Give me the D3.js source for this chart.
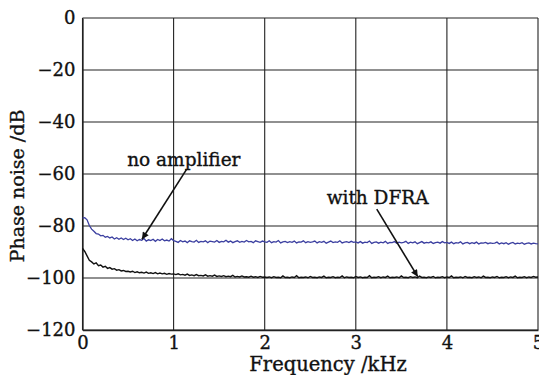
<!DOCTYPE html>
<html>
<head>
<meta charset="utf-8">
<script src="https://cdn.jsdelivr.net/npm/d3@7"></script>
<style>
  body { margin: 0; background: #fff; }
  text { font-family: "DejaVu Serif", serif; fill: #111; stroke: #111; stroke-width: 0.35px; }
</style>
</head>
<body>
<svg id="chart" width="539" height="375"></svg>
<script>
// sample grid (kHz)
const freqStep = 0.025;

// no amplifier
const noAmp = [
  -77.0, -76.8, -77.6, -79.8, -81.2, -82.0, -82.9, -83.1, -83.8, -83.6,
  -84.3, -84.0, -84.6, -84.2, -85.0, -84.5, -85.1, -84.6, -85.2, -84.7, -85.3,
  -84.9, -85.6, -85.0, -85.7, -85.2, -85.5, -84.8, -85.8, -85.3, -85.6,
  -85.1, -85.9, -85.2, -85.6, -85.0, -85.7, -85.4, -85.8, -84.9, -85.6,
  -85.9, -86.3, -85.6, -86.1, -85.8, -86.4, -85.7, -86.0, -86.2, -85.5,
  -86.3, -85.9, -86.1, -85.7, -86.4, -85.8, -86.0, -86.2, -85.6, -86.3,
  -85.9, -86.1, -85.5, -86.2, -85.8, -86.4, -86.0, -85.7, -86.3, -85.9,
  -86.2, -85.6, -86.1, -85.9, -86.4, -85.7, -86.0, -86.3, -85.8, -86.1,
  -86.3, -85.7, -86.4, -86.0, -86.2, -85.6, -86.5, -86.1, -85.9, -86.4,
  -86.0, -86.3, -85.8, -86.5, -86.1, -86.2, -85.7, -86.4, -86.0, -86.3,
  -86.1, -85.8, -86.5, -86.0, -86.3, -85.9, -86.6, -86.2, -85.8, -86.4,
  -86.1, -86.3, -85.7, -86.5, -86.2, -86.0, -86.4, -85.9, -86.3, -86.1,
  -86.5, -86.0, -86.6, -86.2, -86.4, -85.8, -86.7, -86.3, -86.1, -86.6,
  -86.2, -86.5, -85.9, -86.7, -86.3, -86.4, -86.0, -86.6, -86.2, -86.5,
  -86.3, -85.9, -86.7, -86.2, -86.5, -86.1, -86.8, -86.4, -86.0, -86.6,
  -86.3, -86.5, -86.1, -86.7, -86.4, -86.2, -86.6, -86.0, -86.5, -86.3,
  -86.7, -86.2, -86.8, -86.4, -86.6, -86.1, -86.9, -86.5, -86.3, -86.8,
  -86.4, -86.7, -86.2, -86.9, -86.5, -86.6, -86.3, -86.8, -86.5, -86.7,
  -86.6, -86.2, -86.9, -86.5, -86.8, -86.4, -87.0, -86.6, -86.3, -86.9,
  -86.6, -86.8, -86.4, -87.0, -86.7, -86.5, -86.9, -86.6, -86.8, -86.9
];

// with DFRA
const withDfra = [
  -88.6, -89.8, -91.5, -93.2, -93.8, -94.6, -94.2, -95.3, -95.0, -95.8,
  -95.5, -96.3, -96.0, -96.6, -96.4, -97.0, -96.8, -97.3, -97.1, -97.5, -97.4,
  -97.7, -97.4, -97.9, -97.6, -98.0, -97.8, -98.1, -97.7, -98.2, -98.0,
  -98.3, -97.9, -98.4, -98.1, -98.4, -98.2, -98.6, -98.3, -98.5, -98.4,
  -98.7, -98.4, -98.8, -98.6, -98.9, -98.5, -99.0, -98.8, -99.1, -98.7,
  -99.1, -99.0, -99.2, -98.8, -99.3, -99.1, -99.3, -98.9, -99.4, -99.2,
  -99.4, -99.1, -99.5, -99.3, -99.5, -99.0, -99.6, -99.4, -99.6, -99.2,
  -99.6, -99.5, -99.7, -99.3, -99.7, -99.5, -99.8, -99.4, -99.7, -99.6,
  -99.8, -99.6, -99.9, -99.5, -99.8, -99.7, -99.9, -99.2, -99.8, -99.7,
  -99.9, -99.6, -99.8, -99.1, -99.9, -99.7, -99.8, -99.6, -99.9, -99.4,
  -99.8, -99.7, -99.9, -99.6, -99.8, -99.3, -99.9, -99.7, -99.8, -99.5,
  -99.9, -99.7, -99.8, -99.2, -99.9, -99.6, -99.8, -99.7, -99.9, -99.4,
  -99.8, -99.6, -99.9, -99.7, -99.8, -99.1, -99.9, -99.7, -99.8, -99.5,
  -99.9, -99.6, -99.8, -99.3, -99.9, -99.7, -99.8, -99.6, -99.9, -99.2,
  -99.8, -99.7, -99.9, -99.5, -99.8, -99.6, -99.9, -99.3, -99.8, -99.7,
  -99.9, -99.6, -99.8, -99.4, -99.9, -99.7, -99.8, -99.5, -99.9, -99.6,
  -99.8, -99.2, -99.9, -99.7, -99.8, -99.6, -99.9, -99.4, -99.8, -99.7,
  -99.9, -99.5, -99.8, -99.6, -99.9, -99.3, -99.8, -99.7, -99.9, -99.6,
  -99.8, -99.4, -99.9, -99.7, -99.8, -99.5, -99.9, -99.6, -99.8, -99.3,
  -99.9, -99.7, -99.8, -99.5, -99.9, -99.6, -99.8, -99.4, -99.7, -99.6
];

const xTicks = [0, 1, 2, 3, 4, 5];
const yTicks = [0, -20, -40, -60, -80, -100, -120];

// annotations: label anchor and arrow (tail -> head), in data units
const notes = [
  { label: 'no amplifier', tx: 0.49, ty: -56.9, x1: 1.144, y1: -58.1, x2: 0.653, y2: -85.1 },
  { label: 'with DFRA', tx: 2.68, ty: -71.5, x1: 3.23, y1: -73.5, x2: 3.68, y2: -99.5 }
];

const svg = d3.select('#chart');
const x = d3.scaleLinear().domain([0, 5]).range([82.5, 538]);
const y = d3.scaleLinear().domain([-120, 0]).range([330, 18]);

// grid
svg.append('g')
  .selectAll('line')
  .data(xTicks)
  .enter().append('line')
  .attr('x1', d => x(d)).attr('x2', d => x(d))
  .attr('y1', y(0)).attr('y2', y(-120))
  .attr('stroke', '#222').attr('stroke-width', 1.1);

svg.append('g')
  .selectAll('line')
  .data(yTicks)
  .enter().append('line')
  .attr('x1', x(0)).attr('x2', x(5))
  .attr('y1', d => y(d)).attr('y2', d => y(d))
  .attr('stroke', '#222').attr('stroke-width', 1.1);

// axes
const xAxis = svg.append('g')
  .attr('transform', 'translate(0,' + y(-120) + ')')
  .call(d3.axisBottom(x).tickValues(xTicks).tickSize(0).tickPadding(6).tickFormat(d3.format('d')));
const yAxis = svg.append('g')
  .attr('transform', 'translate(' + x(0) + ',0)')
  .call(d3.axisLeft(y).tickValues(yTicks).tickSize(0).tickPadding(7).tickFormat(d3.format('d')));
[xAxis, yAxis].forEach(a => {
  a.select('.domain').attr('stroke', '#222').attr('stroke-width', 1.3);
  a.selectAll('text').attr('font-family', '"DejaVu Serif", serif').attr('font-size', 18).attr('fill', '#111');
});

// series
const line = d3.line()
  .x((d, i) => x(i * freqStep))
  .y(d => y(d));

svg.append('path').datum(noAmp)
  .attr('d', line)
  .attr('fill', 'none')
  .attr('stroke', '#3b3fa0')
  .attr('stroke-width', 1.3);

svg.append('path').datum(withDfra)
  .attr('d', line)
  .attr('fill', 'none')
  .attr('stroke', '#111')
  .attr('stroke-width', 1.4);

// arrow marker
svg.append('defs').append('marker')
  .attr('id', 'head')
  .attr('viewBox', '0 0 10 10')
  .attr('refX', 10).attr('refY', 5)
  .attr('markerWidth', 12).attr('markerHeight', 7)
  .attr('markerUnits', 'userSpaceOnUse')
  .attr('orient', 'auto')
  .append('path')
  .attr('d', 'M0,0 L10,5 L0,10 Z')
  .attr('fill', '#111');

const ann = svg.append('g');
ann.selectAll('line')
  .data(notes)
  .enter().append('line')
  .attr('x1', d => x(d.x1)).attr('y1', d => y(d.y1))
  .attr('x2', d => x(d.x2)).attr('y2', d => y(d.y2))
  .attr('stroke', '#111').attr('stroke-width', 1.6)
  .attr('marker-end', 'url(#head)');

ann.selectAll('text')
  .data(notes)
  .enter().append('text')
  .attr('x', d => x(d.tx)).attr('y', d => y(d.ty))
  .attr('font-size', 18.5)
  .text(d => d.label);

// axis titles
svg.append('text')
  .attr('x', 328).attr('y', 371)
  .attr('text-anchor', 'middle')
  .attr('font-size', 19.5)
  .text('Frequency /kHz');

svg.append('text')
  .attr('transform', 'translate(24,186) rotate(-90)')
  .attr('text-anchor', 'middle')
  .attr('font-size', 19)
  .text('Phase noise /dB');
</script>
</body>
</html>
